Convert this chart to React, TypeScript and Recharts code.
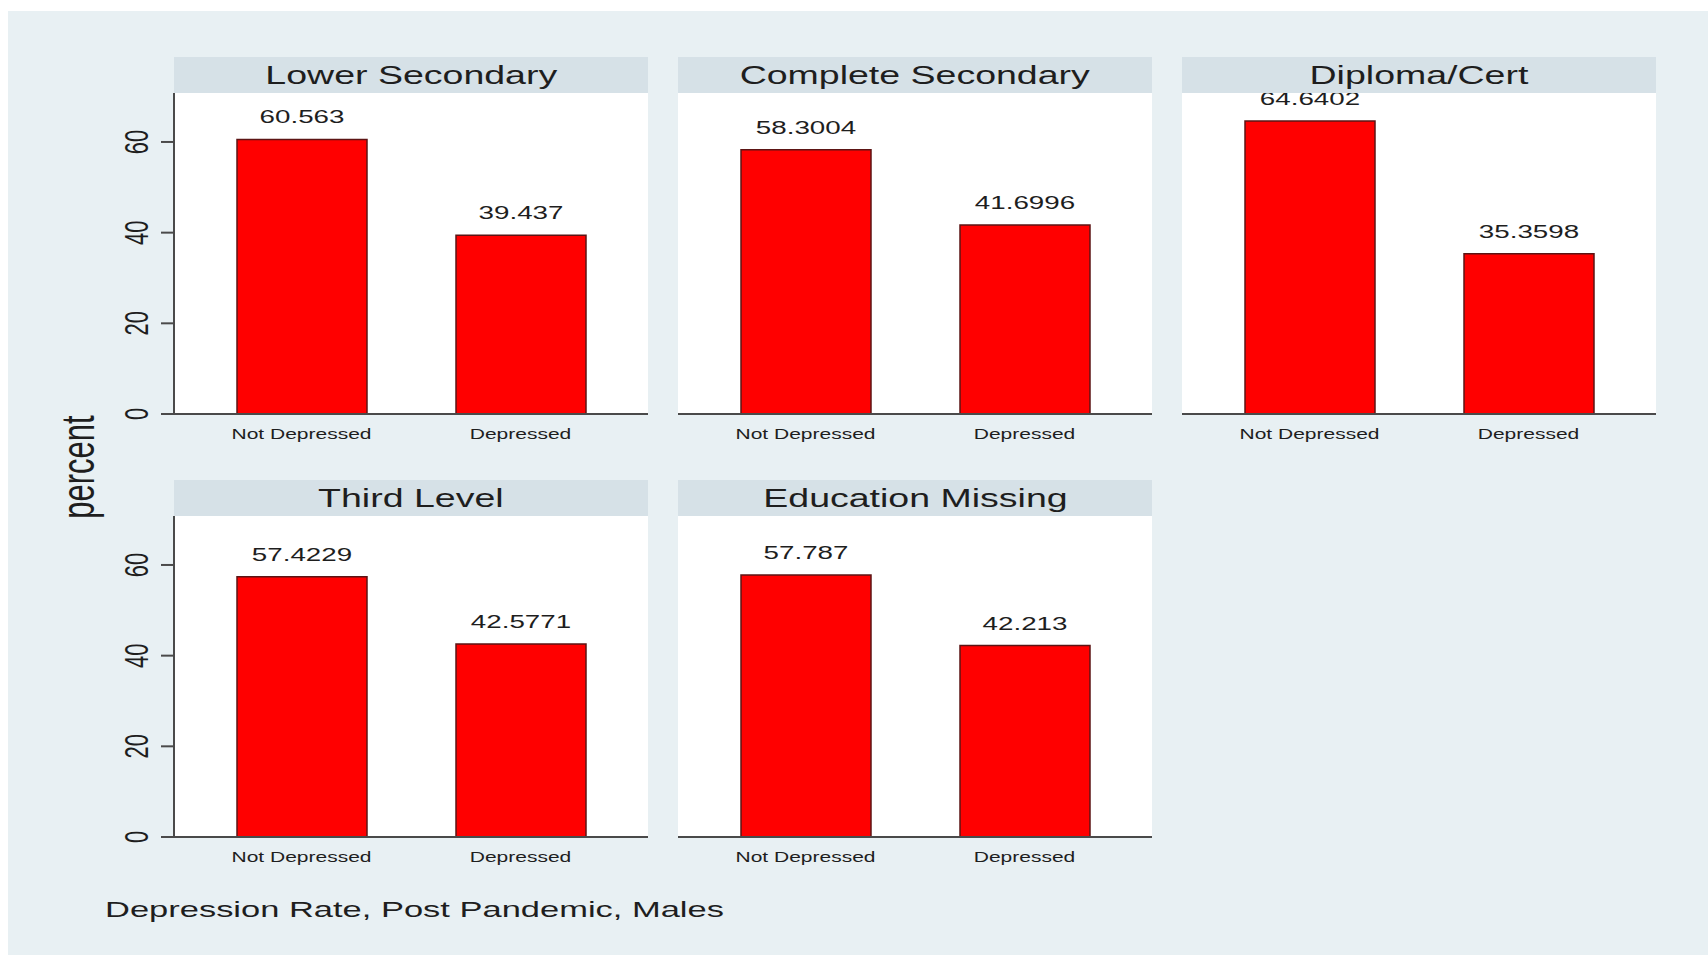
import React from "react";
import { BarChart, Bar, XAxis, YAxis, CartesianGrid, LabelList } from "recharts";

// facet titles, in the order they are drawn (row by row)
const panels = ["Lower Secondary", "Complete Secondary", "Diploma/Cert", "Third Level", "Education Missing"];
const categories = ["Not Depressed", "Depressed"];
const notDepressed = [60.563, 58.3004, 64.6402, 57.4229, 57.787];
const depressed = [39.437, 41.6996, 35.3598, 42.5771, 42.213];
const yTicks = [0, 20, 40, 60];

const FONT = "'Liberation Sans', Arial, Helvetica, sans-serif";
const SX = 1.5; // the source picture is stretched sideways
const INK = "#1e1e1e";
const BG = "#e8f0f3";
const STRIP = "#d6e1e7";
const AXIS = "#4a4a4a";

const colLeft = [174, 678, 1182];
const rowTop = [57, 480];
const plotW = 474;
const headH = 36;
const plotH = 321;
const yAxisW = 74;

function ValueLabel(props: any) {
  const { x, y, width, value } = props;
  return (
    <text
      transform={`translate(${x + width / 2},${y - 16}) scale(${SX},1)`}
      textAnchor="middle"
      fontSize={18.5}
      fontFamily={FONT}
      fill={INK}
    >
      {String(value)}
    </text>
  );
}

function XTick(props: any) {
  const { x, y, payload } = props;
  return (
    <text
      transform={`translate(${x},${y + 25}) scale(${SX},1)`}
      textAnchor="middle"
      fontSize={14}
      fontFamily={FONT}
      fill={INK}
    >
      {payload.value}
    </text>
  );
}

function YTick(props: any) {
  const { x, y, payload } = props;
  return (
    <text
      transform={`translate(${x - 13},${y}) scale(${SX},1) rotate(-90)`}
      textAnchor="middle"
      fontSize={22}
      fontFamily={FONT}
      fill={INK}
    >
      {payload.value}
    </text>
  );
}

function Panel({ idx }: { idx: number }) {
  const col = idx % 3;
  const row = Math.floor(idx / 3);
  const first = col === 0;
  const left = colLeft[col] - (first ? yAxisW : 0);
  const top = rowTop[row];
  const data = categories.map((c, i) => ({
    cat: c,
    value: i === 0 ? notDepressed[idx] : depressed[idx],
  }));

  return (
    <>
      <div style={{ position: "absolute", left, top, zIndex: 1 }}>
        <BarChart
          width={plotW + (first ? yAxisW : 0)}
          height={headH + plotH + 40}
          data={data}
          margin={{ top: headH, right: 0, bottom: 0, left: 0 }}
        >
          <rect x={first ? yAxisW : 0} y={headH} width={plotW} height={plotH} fill="#ffffff" />
          <CartesianGrid vertical={false} stroke="#e4ebee" strokeWidth={1.5} />
          <XAxis
            dataKey="cat"
            height={40}
            padding={{ left: 18, right: 18 }}
            tickLine={false}
            tickSize={0}
            tickMargin={0}
            tick={<XTick />}
            axisLine={{ stroke: AXIS, strokeWidth: 2 }}
          />
          <YAxis
            hide={!first}
            width={yAxisW}
            domain={[0, 70.8]}
            ticks={yTicks}
            tickSize={13}
            tickMargin={0}
            tick={<YTick />}
            tickLine={{ stroke: AXIS, strokeWidth: 2 }}
            axisLine={{ stroke: AXIS, strokeWidth: 2 }}
          />
          <Bar dataKey="value" fill="#ff0000" stroke="#5c1414" strokeWidth={1.5} barSize={130} isAnimationActive={false}>
            <LabelList dataKey="value" content={<ValueLabel />} />
          </Bar>
        </BarChart>
      </div>
      <div
        style={{
          position: "absolute",
          left: colLeft[col],
          top,
          width: plotW,
          height: headH,
          background: STRIP,
          zIndex: 2,
          display: "flex",
          alignItems: "center",
          justifyContent: "center",
        }}
      >
        <span
          style={{
            fontFamily: FONT,
            fontSize: 25,
            color: INK,
            display: "inline-block",
            transform: `scaleX(${SX})`,
            whiteSpace: "nowrap",
          }}
        >
          {panels[idx]}
        </span>
      </div>
    </>
  );
}

export default function App() {
  return (
    <div style={{ position: "fixed", left: 0, top: 0, width: 1708, height: 955, background: "#ffffff", overflow: "hidden" }}>
      <div style={{ position: "absolute", left: 8, top: 11, right: 0, bottom: 0, background: BG }} />
      {panels.map((_, i) => (
        <Panel key={i} idx={i} />
      ))}
      <svg width={1708} height={955} style={{ position: "absolute", left: 0, top: 0, zIndex: 3, pointerEvents: "none" }}>
        <text
          transform={`translate(78,467) scale(${SX},1) rotate(-90)`}
          textAnchor="middle"
          dominantBaseline="central"
          fontSize={31}
          fontFamily={FONT}
          fill={INK}
        >
          percent
        </text>
        <text
          transform={`translate(105,917) scale(${SX},1)`}
          fontSize={23}
          fontFamily={FONT}
          fill={INK}
        >
          Depression Rate, Post Pandemic, Males
        </text>
      </svg>
    </div>
  );
}
